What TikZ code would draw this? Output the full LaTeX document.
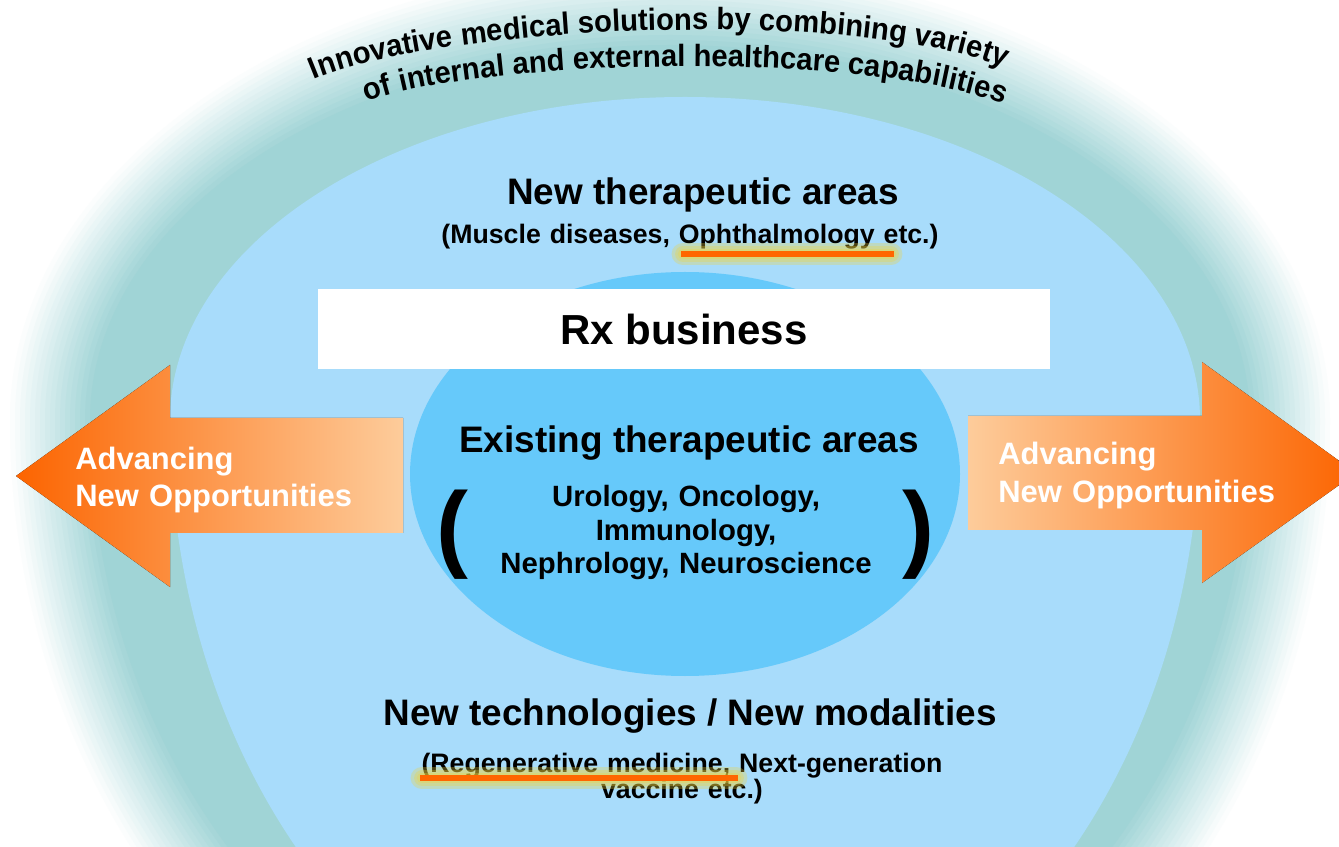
\documentclass[tikz,border=0pt]{standalone}
\usepackage{fontspec}
\setmainfont{Liberation Sans}
\newfontfamily\archfont{Liberation Sans}[FakeStretch=0.95]
\usepackage{tikz}
\usetikzlibrary{decorations.text}

\definecolor{tealhalo}{RGB}{160,212,214}
\definecolor{skyfill}{RGB}{168,220,251}
\definecolor{corefill}{RGB}{102,201,250}
\definecolor{arrowdark}{RGB}{252,100,0}
\definecolor{arrowlight}{RGB}{253,204,155}
\definecolor{lineorange}{RGB}{255,102,0}
\definecolor{glowyellow}{RGB}{240,212,60}

\begin{document}
\begin{tikzpicture}[x=0.02cm, y=0.02cm,
    heading/.style={font=\bfseries\fontsize{21}{25}\selectfont, anchor=base, inner sep=0pt},
    note/.style={font=\bfseries\fontsize{15.2}{14.8}\selectfont, anchor=base, inner sep=0pt,
        text width=12cm, align=center},
    arealist/.style={font=\bfseries\fontsize{16.7}{18.8}\selectfont, anchor=base, inner sep=0pt,
        text width=10cm, align=center},
    paren/.style={font=\bfseries\fontsize{54.6}{56}\selectfont, inner sep=0pt},
    advtext/.style={font=\bfseries\fontsize{17.6}{21.6}\selectfont, text=white, anchor=base west,
        inner sep=0pt, text width=7cm, align=left},
    glow/.style={glowyellow, opacity=0.3, line cap=round},
    underline/.style={lineorange, line width=3.2pt}]
                \useasboundingbox
                    (0,0) rectangle (1339,846);
                \clip
                    (0,0) rectangle (1339,846);
                \fill[white]
                    (0,0) rectangle (1339,846);
                \foreach \k in {16,15,...,0} {
                    \pgfmathtruncatemacro{\pct}{100-6*\k}
                    \fill[tealhalo!\pct!white]
                        (670+580+5*\k,426) arc[start angle=0, end angle=180, x radius=580+5*\k, y radius=375+5*\k]
                        arc[start angle=180, end angle=360, x radius=580+5*\k, y radius=660+5*\k] -- cycle;
                }
                \fill[skyfill]
                    (685+515,426) arc[start angle=0, end angle=180, x radius=515, y radius=323]
                    arc[start angle=180, end angle=360, x radius=515, y radius=652] -- cycle;
                \fill[corefill]
                    (685,372) ellipse[x radius=275, y radius=202];
                \node[fill=white, minimum width=14.64cm, minimum height=1.6cm, inner sep=0pt,
                    font=\bfseries\fontsize{23.9}{28}\selectfont] (rx) at (684,517) {Rx business};
                \fill[left color=arrowdark, right color=arrowlight]
                    (16,370) -- (170,481) -- (170,428) -- (403,428) -- (403,313) -- (170,313) -- (170,259) -- cycle;
                \fill[left color=arrowlight, right color=arrowdark]
                    (968,430) -- (1202,430) -- (1202,484) -- (1356,373) -- (1202,263) -- (1202,316) -- (968,316) -- cycle;
                \node[advtext] (leftadv) at (75,377) {Advancing\\New Opportunities};
                \node[advtext] (rightadv) at (998,381) {Advancing\\New Opportunities};
                \path[decorate, decoration={text along path, text align=center,
                    text={|\archfont\bfseries\fontsize{17.5}{19}\selectfont|Innovative medical solutions by combining variety}}]
                    (300,760) .. controls (415,822) and (885,842) .. (1018,772);
                \path[decorate, decoration={text along path, text align=center,
                    text={|\archfont\bfseries\fontsize{17.5}{19}\selectfont|of internal and external healthcare capabilities}}]
                    (354,738) .. controls (440,786) and (880,801) .. (1016,736);
                \node[heading] (newareas) at (703,641) {New therapeutic areas};
                \node[note] (newareasnote) at (690,602) {(Muscle diseases, Ophthalmology etc.)};
                \node[heading] (existing) at (689,393) {Existing therapeutic areas};
                \node[arealist] (existlist) at (686,339) {Urology, Oncology,\\Immunology,\\Nephrology, Neuroscience};
                \node[paren] (lparen) at (452,311) {(};
                \node[paren] (rparen) at (918,311) {)};
                \node[heading] (newtech) at (690,121) {New technologies / New modalities};
                \node[note] (newtechnote) at (682,74) {(Regenerative medicine, Next-generation\\vaccine etc.)};
                \foreach \w in {13,9,6} {
                    \draw[glow, line width=\w pt]
                        (683,592) -- (891,592);
                    \draw[glow, line width=\w pt]
                        (422,68) -- (736,68);
                }
                \draw[underline]
                    (681,592) -- (894,592);
                \draw[underline]
                    (420,68) -- (738,68);
            \end{tikzpicture}
\end{document}
